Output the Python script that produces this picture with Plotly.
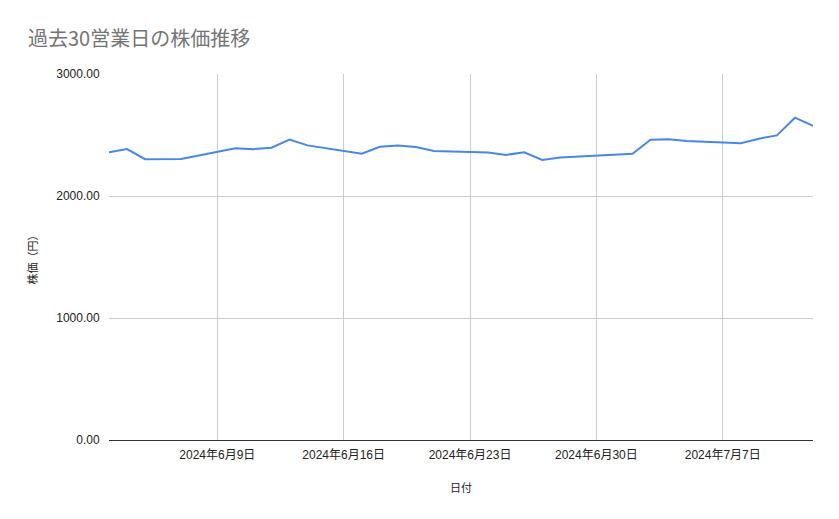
import plotly.graph_objects as go

dates = [
    "2024-06-03", "2024-06-04", "2024-06-05", "2024-06-06", "2024-06-07",
    "2024-06-10", "2024-06-11", "2024-06-12", "2024-06-13", "2024-06-14",
    "2024-06-17", "2024-06-18", "2024-06-19", "2024-06-20", "2024-06-21",
    "2024-06-24", "2024-06-25", "2024-06-26", "2024-06-27", "2024-06-28",
    "2024-07-01", "2024-07-02", "2024-07-03", "2024-07-04", "2024-07-05",
    "2024-07-08", "2024-07-09", "2024-07-10", "2024-07-11", "2024-07-12",
]
prices = [
    2358, 2385, 2302, 2303, 2304,
    2391, 2384, 2396, 2462, 2415,
    2347, 2404, 2413, 2402, 2369,
    2356, 2337, 2358, 2296, 2315,
    2342, 2347, 2462, 2465, 2451,
    2432, 2470, 2497, 2642, 2576,
]
x_tickvals = ["2024-06-09", "2024-06-16", "2024-06-23", "2024-06-30", "2024-07-07"]
x_ticktext = ["2024年6月9日", "2024年6月16日", "2024年6月23日", "2024年6月30日", "2024年7月7日"]
y_tickvals = [0, 1000, 2000, 3000]
y_ticktext = ["0.00", "1000.00", "2000.00", "3000.00"]

font_family = "Liberation Sans, Arial, Noto Sans CJK JP, sans-serif"
title_family = "Noto Sans CJK JP, sans-serif"

W, H = 831, 511  # page body has an 8px default margin

fig = go.Figure()
fig.add_trace(go.Scatter(
    x=dates, y=prices, mode="lines",
    line=dict(color="#4a86e8", width=2),
    hoverinfo="x+y",
))

fig.update_layout(
    width=W, height=H,
    margin=dict(l=101, r=26, t=66, b=79),
    paper_bgcolor="white", plot_bgcolor="white",
    showlegend=False,
    font=dict(family=font_family, size=12, color="#222222"),
    title=dict(
        text="過去30営業日の株価推移",
        x=20 / W, xanchor="left", xref="container",
        y=1 - 31 / H, yanchor="middle", yref="container",
        font=dict(family=title_family, size=20, color="#757575"),
    ),
    xaxis=dict(
        type="date",
        range=["2024-06-03", "2024-07-12"],
        tickvals=x_tickvals, ticktext=x_ticktext,
        showgrid=True, gridcolor="#cccccc", gridwidth=1,
        showline=True, linecolor="#333333", linewidth=1,
        ticks="outside", ticklen=4, tickcolor="rgba(0,0,0,0)",
        tickfont=dict(size=12, color="#222222"),
        title=dict(text="日付", font=dict(size=11, color="#222222"), standoff=22),
        zeroline=False,
    ),
    yaxis=dict(
        range=[0, 3000],
        tickvals=y_tickvals, ticktext=y_ticktext,
        showgrid=True, gridcolor="#cccccc", gridwidth=1,
        showline=False, zeroline=False,
        ticks="outside", ticklen=6, tickcolor="rgba(0,0,0,0)",
        tickfont=dict(size=12, color="#222222"),
        title=dict(text="株価（円）", font=dict(size=11, color="#222222"), standoff=16),
    ),
)

fig.write_html("out.html")
